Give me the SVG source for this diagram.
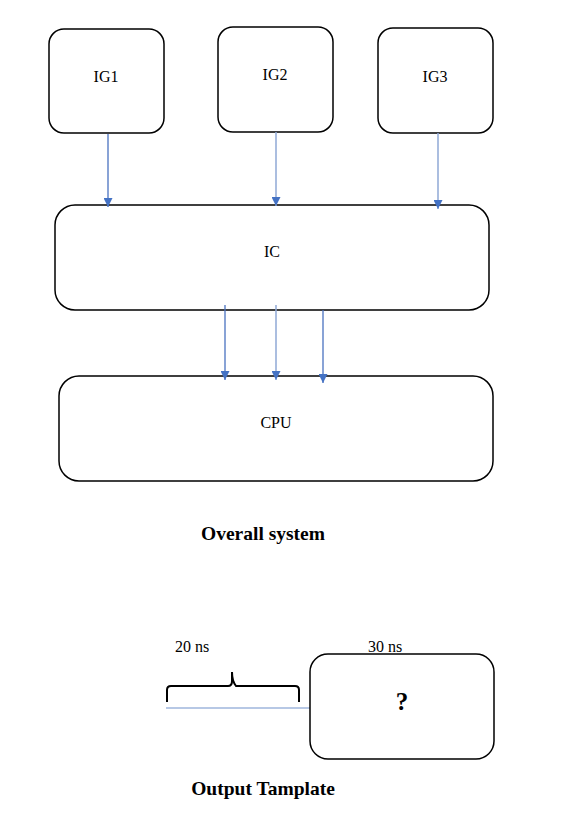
<svg xmlns="http://www.w3.org/2000/svg" width="563" height="830" viewBox="0 0 563 830">
<defs>
<style>
.box{fill:#fff;stroke:#000;stroke-width:1.5}
.t{font-family:"Liberation Serif","Times New Roman",serif;font-size:16px;fill:#000;text-anchor:middle}
.b{font-family:"Liberation Serif","Times New Roman",serif;font-weight:bold;fill:#000;text-anchor:middle}
.c{stroke:#4a72c0;stroke-width:1.3;fill:none}
.c2{stroke:#8fa9d6;stroke-width:1.5;fill:none}
</style>
<marker id="ah" viewBox="0 0 10 10" refX="10" refY="5" markerWidth="9" markerHeight="9" markerUnits="userSpaceOnUse" orient="auto">
<path d="M0,0 L10,5 L0,10 z" fill="#4472c4"/>
</marker>
</defs>
<rect width="563" height="830" fill="#fff"/>
<g id="IG1"><rect class="box" x="49" y="29" width="115" height="104" rx="15"/><text class="t" x="106" y="82">IG1</text></g>
<g id="IG2"><rect class="box" x="218" y="27" width="115" height="105" rx="15"/><text class="t" x="275" y="80">IG2</text></g>
<g id="IG3"><rect class="box" x="378" y="28" width="115" height="105" rx="15"/><text class="t" x="435" y="82">IG3</text></g>
<g id="IC"><rect class="box" x="55" y="205" width="434" height="105" rx="20"/><text class="t" x="272" y="257">IC</text></g>
<g id="CPU"><rect class="box" x="59" y="376" width="434" height="105" rx="20"/><text class="t" x="276" y="428">CPU</text></g>
<g id="connectors">
<line class="c" x1="108" y1="134" x2="108" y2="207" marker-end="url(#ah)"/>
<line class="c2" x1="276" y1="132" x2="276" y2="206" marker-end="url(#ah)"/>
<line class="c2" x1="438" y1="133" x2="438" y2="209" marker-end="url(#ah)"/>
<line class="c" x1="225" y1="305" x2="225" y2="380" marker-end="url(#ah)"/>
<line class="c2" x1="276" y1="305" x2="276" y2="380" marker-end="url(#ah)"/>
<line class="c" x1="323" y1="310" x2="323" y2="383" marker-end="url(#ah)"/>
</g>
<text class="b" x="263" y="540" font-size="19.5">Overall system</text>
<g id="template">
<text class="t" x="192" y="652">20 ns</text>
<text class="t" x="385" y="652">30 ns</text>
<line x1="166" y1="708" x2="310" y2="708" stroke="#9fb6dd" stroke-width="1.3"/>
<path d="M167,702 L167,690 Q167,686 171,686 L228,686 Q232,686 232,681 L232,672 Q232,681 236,686 L295,686 Q299,686 299,690 L299,702" fill="none" stroke="#000" stroke-width="2"/>
<rect class="box" x="310" y="654" width="184" height="105" rx="18"/>
<text class="b" x="402" y="710" font-size="25">?</text>
</g>
<text class="b" x="263" y="795" font-size="19.5">Output Tamplate</text>
</svg>
